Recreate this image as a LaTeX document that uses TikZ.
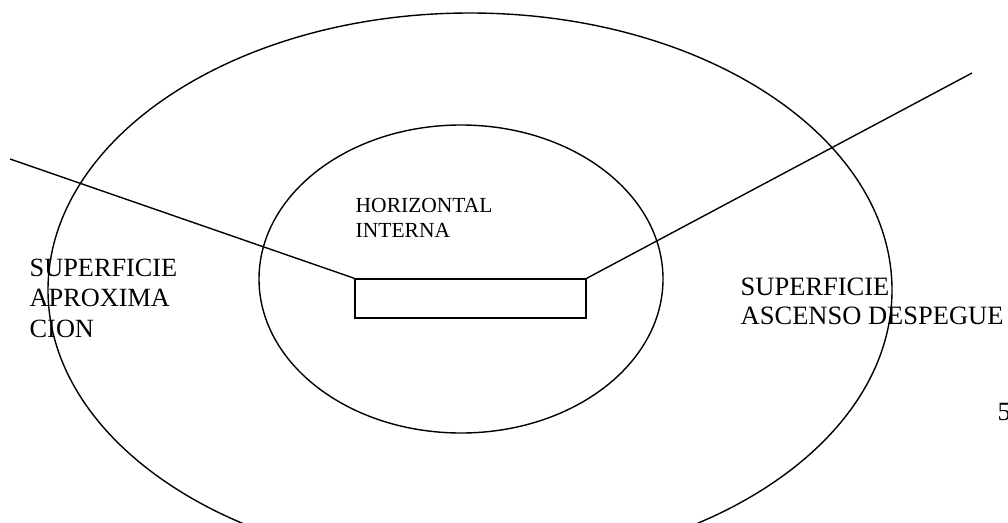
\documentclass[tikz,border=0pt]{standalone}
\usepackage{fontspec}
\setmainfont{Liberation Serif}
\usetikzlibrary{positioning}

\tikzset{
    surflabel/.style={anchor=north west, inner sep=0pt, align=left, font=\fontsize{26.3}{30.8}\selectfont},
    innerlabel/.style={anchor=north west, inner sep=0pt, align=left, font=\fontsize{21.5}{25}\selectfont}
}

\begin{document}
\begin{tikzpicture}[x=1pt, y=-1pt, line width=1.4pt]
            \useasboundingbox (0, 0) rectangle (1008, 522);

            %%%%%%%%
            % surfaces
            %%%%%%%%

            % draw outer surface
            \draw (470, 290) ellipse [x radius=422pt, y radius=277pt];

            % draw inner horizontal surface
            \draw (461, 279) ellipse [x radius=202pt, y radius=154pt];

            %%%%%%%%
            % runway
            %%%%%%%%

            % draw runway strip
            \node[draw, inner sep=0pt, minimum width=231pt, minimum height=39pt] (pista) at (470.5, 298.5) {};

            % draw approach and take-off lines
            \coordinate (aprox) at (10, 159);
            \coordinate (despegue) at (972, 73);
            \draw (aprox) -- (pista.north west);
            \draw (pista.north east) -- (despegue);

            %%%%%%%%
            % labels
            %%%%%%%%
            \node[innerlabel] (horiz) at (355, 198) {HORIZONTAL\\INTERNA};
            \node[surflabel] (aproxlbl) at (29, 258) {SUPERFICIE\\APROXIMA\\CION};
            \node[surflabel, font=\fontsize{26.5}{29.5}\selectfont] (desplbl) at (740, 277) {SUPERFICIE\\ASCENSO DESPEGUE};
            \node[surflabel] (pagina) at (997, 403) {5};
        \end{tikzpicture}
\end{document}
